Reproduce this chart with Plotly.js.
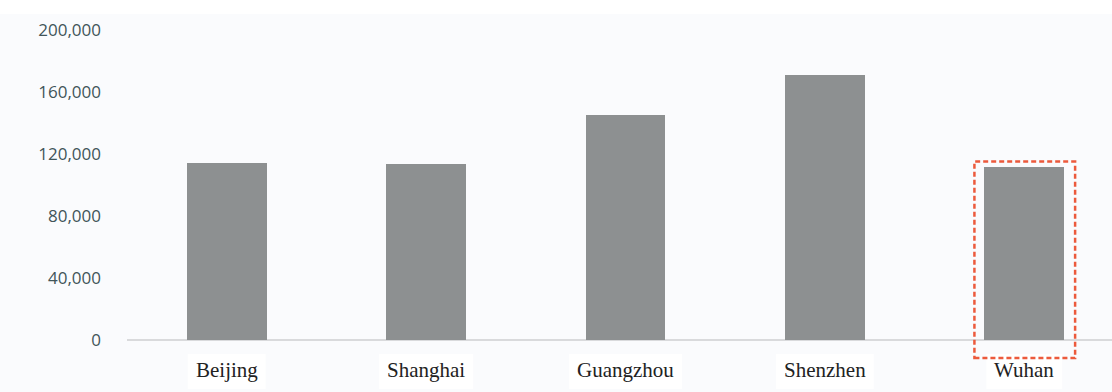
<!DOCTYPE html>
<html>
<head>
<meta charset="utf-8">
<script src="https://cdn.plot.ly/plotly-3.0.1.min.js"></script>
<style>
  html, body { margin: 0; padding: 0; background: #ffffff; }
  #chart { width: 1112px; height: 392px; }
</style>
</head>
<body>
<div id="chart"></div>
<script>
// Cities compared
const cities = ['Beijing', 'Shanghai', 'Guangzhou', 'Shenzhen', 'Wuhan'];
// Value per city
const values = [114500, 113500, 145000, 171000, 111500];
// Y axis ticks
const yTickVals = [0, 40000, 80000, 120000, 160000, 200000];
const yTickText = ['0', '40,000', '80,000', '120,000', '160,000', '200,000'];
// City singled out with a dashed frame
const highlightCity = 'Wuhan';

const yMax = 200000;
const barWidth = 0.4;
const panelColor = '#fafbfd';
const xRange = [-0.5, 4.44];
const plotH = 310;   // plot height in px (392 - top 30 - bottom 52)
const plotW = 985;   // plot width in px (1112 - left 127)

const labelFontFamily = '"Liberation Serif", "Times New Roman", serif';
const labelFontSize = 21;

// Measure label widths so each white label box fits its text
const ctx = document.createElement('canvas').getContext('2d');
ctx.font = labelFontSize + 'px "Liberation Serif"';
const pxPerUnit = plotW / (xRange[1] - xRange[0]);

const trace = {
  type: 'bar',
  x: cities.map((_, i) => i),
  y: values,
  width: barWidth,
  marker: { color: '#8d9091', line: { width: 0 } },
  hoverinfo: 'x+y'
};

const labelY = -30 / plotH;

const labelAnnotations = cities.map((c, i) => ({
  x: i, xref: 'x',
  y: labelY, yref: 'paper',
  text: c,
  showarrow: false,
  xanchor: 'center', yanchor: 'middle',
  font: { family: labelFontFamily, size: labelFontSize, color: '#222222' }
}));

const labelBoxes = cities.map((c, i) => {
  const half = (ctx.measureText(c).width / 2 + 8) / pxPerUnit;
  return {
    type: 'rect', xref: 'x', yref: 'paper',
    x0: i - half, x1: i + half,
    y0: -49 / plotH, y1: -14 / plotH,
    fillcolor: '#ffffff', line: { width: 0 }, layer: 'above'
  };
});

const hi = cities.indexOf(highlightCity);
const hiVal = values[hi];

const layout = {
  width: 1112,
  height: 392,
  margin: { l: 127, r: 0, t: 30, b: 52, pad: 0 },
  paper_bgcolor: panelColor,
  plot_bgcolor: panelColor,
  showlegend: false,
  bargap: 0,
  xaxis: {
    range: xRange,
    showticklabels: false,
    showgrid: false,
    zeroline: false,
    showline: false,
    ticks: '',
    fixedrange: true
  },
  yaxis: {
    range: [0, yMax],
    tickvals: yTickVals,
    ticktext: yTickText,
    showgrid: false,
    zeroline: true,
    zerolinecolor: '#d9dadc',
    zerolinewidth: 1.2,
    showline: false,
    ticks: '',
    ticklabelstandoff: 25,
    tickfont: { family: '"Open Sans", "Noto Sans", sans-serif', size: 17, color: '#415559' },
    fixedrange: true
  },
  shapes: [
    // white strip across the top edge
    {
      type: 'rect', xref: 'paper', yref: 'paper',
      x0: -0.2, x1: 1.1, y0: 1 + 16 / plotH, y1: 1.2,
      fillcolor: '#ffffff', line: { width: 0 }, layer: 'below'
    },
    ...labelBoxes,
    // dashed frame around the highlighted city's bar
    {
      type: 'rect', xref: 'x', yref: 'paper',
      x0: hi - barWidth / 2 - 0.05, x1: hi + barWidth / 2 + 0.055,
      y0: -11600 / yMax, y1: (hiVal + 3600) / yMax,
      fillcolor: 'rgba(0,0,0,0)',
      line: { color: '#ec5a3c', width: 2.5, dash: '5px,3px' },
      layer: 'above'
    }
  ],
  annotations: labelAnnotations
};

Plotly.newPlot('chart', [trace], layout, { displayModeBar: false, staticPlot: true });
</script>
</body>
</html>
